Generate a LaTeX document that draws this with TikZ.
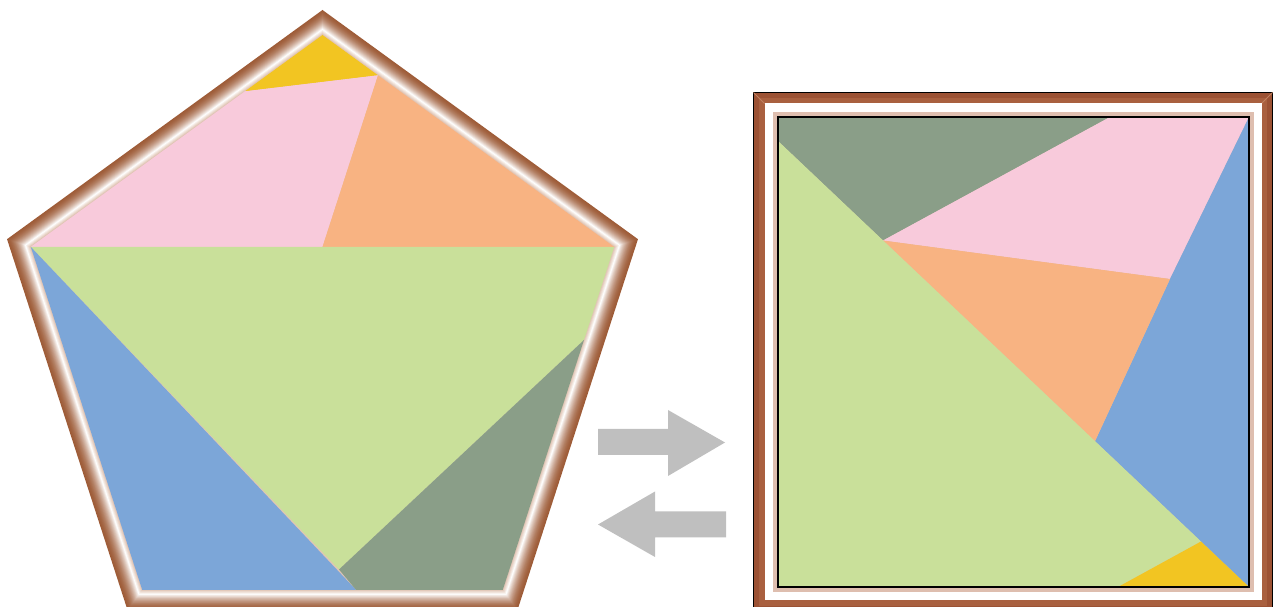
\documentclass[tikz,border=0pt]{standalone}
\usepackage{xcolor}
\usetikzlibrary{positioning}

\definecolor{pcyellow}{RGB}{242,197,34}
\definecolor{pcpink}{RGB}{248,202,219}
\definecolor{pcorange}{RGB}{248,179,130}
\definecolor{pclime}{RGB}{201,224,154}
\definecolor{pcsage}{RGB}{138,158,136}
\definecolor{pcblue}{RGB}{124,166,216}
\definecolor{framebrown}{RGB}{158,92,56}
\definecolor{frametan}{RGB}{200,150,120}
\definecolor{sqbrownA}{RGB}{156,82,52}
\definecolor{sqbrownB}{RGB}{169,96,63}
\definecolor{sqmiter}{RGB}{192,128,96}
\definecolor{sqtan}{RGB}{222,190,175}
\definecolor{arrowgray}{RGB}{191,191,191}

\begin{document}
\begin{tikzpicture}[x=0.02cm, y=-0.02cm]
  \useasboundingbox (0,0) rectangle (1278,607);

  % pentagon frame, shaded from outside in
  \begin{scope}[shift={(322.5,341.7)}]
    \foreach \k in {0,...,19} {
      \pgfmathtruncatemacro\pp{100*(1-(\k/19)^1.7)}
      \pgfmathsetmacro\rr{331.7-\k}
      \fill[framebrown!\pp!white] (-90:\rr) -- (-18:\rr) -- (54:\rr) -- (126:\rr) -- (198:\rr) -- cycle;
    }
    \foreach \k in {20,...,24} {
      \pgfmathtruncatemacro\pp{(\k-19)*11}
      \pgfmathsetmacro\rr{331.7-\k}
      \fill[frametan!\pp!white] (-90:\rr) -- (-18:\rr) -- (54:\rr) -- (126:\rr) -- (198:\rr) -- cycle;
    }
  \end{scope}

  % pentagon pieces
  \coordinate (pT) at (322.5,35);
  \coordinate (pL) at (30.8,246.9);
  \coordinate (pR) at (614.2,246.9);
  \coordinate (pBL) at (142.2,589.8);
  \coordinate (pBR) at (502.8,589.8);
  \coordinate (pY1) at (245,91.3);
  \coordinate (pY2) at (378,75.3);
  \coordinate (pM) at (322.5,246.9);
  \coordinate (pG) at (584,340);
  \coordinate (pP) at (339,569.5);
  \coordinate (pB) at (356,589.8);
  \fill[pcyellow] (pT) -- (pY2) -- (pY1) -- cycle;
  \fill[pcpink] (pY1) -- (pY2) -- (pM) -- (pL) -- cycle;
  \fill[pcorange] (pY2) -- (pR) -- (pM) -- cycle;
  \fill[pclime] (pL) -- (pR) -- (pG) -- (pP) -- cycle;
  \fill[pcblue] (pL) -- (pB) -- (pBL) -- cycle;
  \fill[pcsage] (pP) -- (pG) -- (pBR) -- (pB) -- cycle;

  % arrows
  \fill[arrowgray] (598,429) -- (668,429) -- (668,410) -- (725,442.5) -- (668,476) -- (668,455) -- (598,455) -- cycle;
  \fill[arrowgray] (726,511.5) -- (655,511.5) -- (655,491.5) -- (598,524.5) -- (655,557) -- (655,537.5) -- (726,537.5) -- cycle;

  % square frame
  \filldraw[fill=sqbrownA, draw=black, line width=0.6pt] (753.5,92.5) rectangle (1272.5,611);
  \fill[sqbrownB] (759,98) rectangle (1267,606);
  \draw[sqmiter, line width=0.5pt] (753.5,92.5) -- (764.5,103.5);
  \draw[sqmiter, line width=0.5pt] (1272.5,92.5) -- (1261.5,103.5);
  \fill[white] (764.5,103.5) rectangle (1261.5,600);
  \fill[sqtan] (772.5,112.5) rectangle (1254,592);

  % square pieces
  \coordinate (sTL) at (778,117);
  \coordinate (sTR) at (1249,117);
  \coordinate (sBR) at (1249,587);
  \coordinate (sBL) at (778,587);
  \coordinate (sA) at (1110,117);
  \coordinate (sE) at (778,141);
  \coordinate (sF) at (883,240.5);
  \coordinate (sG) at (1170,279);
  \coordinate (sH) at (1095,441.2);
  \coordinate (sJ) at (1201,541.5);
  \coordinate (sK) at (1118,587);
  \fill[pcsage] (sTL) -- (sA) -- (sF) -- (sE) -- cycle;
  \fill[pcpink] (sF) -- (sA) -- (sTR) -- (sG) -- cycle;
  \fill[pcblue] (sG) -- (sTR) -- (sBR) -- (sH) -- cycle;
  \fill[pcorange] (sF) -- (sG) -- (sH) -- cycle;
  \fill[pclime] (sE) -- (sJ) -- (sK) -- (sBL) -- cycle;
  \fill[pcyellow] (sK) -- (sJ) -- (sBR) -- cycle;
  \draw[line width=0.7pt] (sTL) rectangle (sBR);
\end{tikzpicture}
\end{document}
